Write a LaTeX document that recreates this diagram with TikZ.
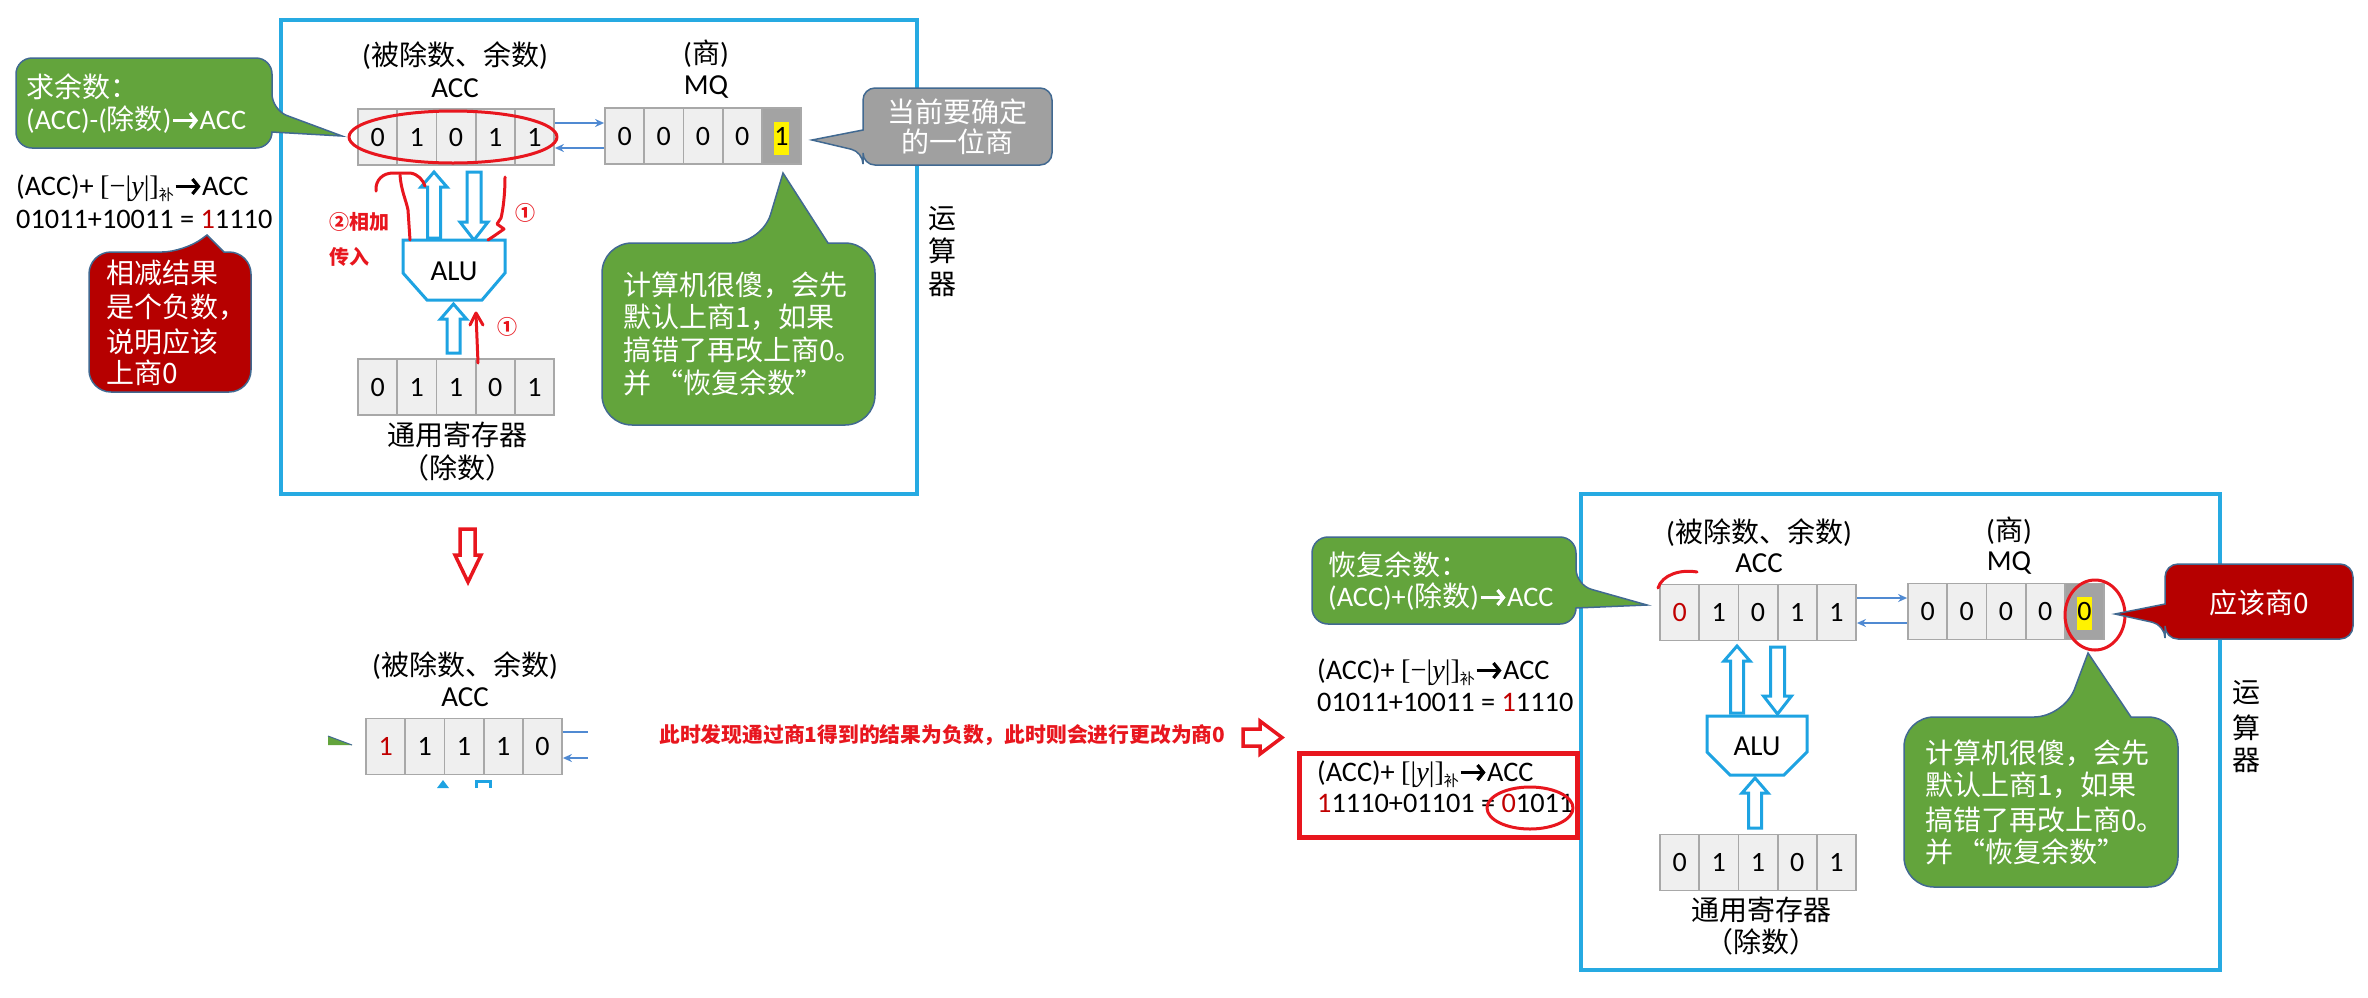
\documentclass[tikz,border=0pt]{standalone}
\usepackage{fontspec}
\setmainfont{Carlito}
\newfontfamily\cjk{Noto Sans CJK SC}
\newfontfamily\tms{Liberation Serif}
\usetikzlibrary{arrows.meta}
\definecolor{frameblue}{RGB}{38,170,226}
\definecolor{arrowblue}{RGB}{30,163,226}
\definecolor{linkblue}{RGB}{80,138,210}
\definecolor{cellfill}{RGB}{239,239,239}
\definecolor{cellline}{RGB}{168,168,168}
\definecolor{darkcell}{RGB}{163,163,163}
\definecolor{calgreen}{RGB}{99,164,60}
\definecolor{calred}{RGB}{182,0,0}
\definecolor{calgray}{RGB}{160,160,160}
\definecolor{calborder}{RGB}{65,105,145}
\definecolor{annred}{RGB}{232,22,30}
\definecolor{digred}{RGB}{192,0,0}
\newcommand\sz[2]{\fontsize{#1pt}{#2pt}\selectfont}
\newcommand\rarr[1]{\tikz[baseline=0pt]\draw[#1,line width=3.2pt,-{Straight Barb[length=6pt,width=15pt]}] (0pt,8.5pt) -- (25pt,8.5pt);}
\newcommand\yabs[1]{{\tms [#1|\textit{y}|]}\raisebox{-5pt}{\cjk\sz{15}{15}补}}
\newcommand\hl[1]{{\setlength\fboxsep{0pt}\colorbox{yellow}{\strut #1}}}
\newcommand\regrow[4]{\foreach \d [count=\i] in {#4} {\node[cell] (#1\i) at ({#2+(\i-0.5)*39.2},#3) {\d};}}
\newcommand\vup[3]{\draw[hollow] (#1,#2) -- ({#1+13},{#2+15}) -- ({#1+6.5},{#2+15}) -- ({#1+6.5},#3) -- ({#1-6.5},#3) -- ({#1-6.5},{#2+15}) -- ({#1-13},{#2+15}) -- cycle;}
\newcommand\vdown[3]{\draw[hollow] (#1,#3) -- ({#1+14},{#3-18}) -- ({#1+7},{#3-18}) -- ({#1+7},#2) -- ({#1-7},#2) -- ({#1-7},{#3-18}) -- ({#1-14},{#3-18}) -- cycle;}
\begin{document}
\begin{tikzpicture}[x=1pt,y=-1pt,
 cell/.style={draw=cellline,fill=cellfill,line width=1.8pt,minimum width=39.2pt,minimum height=56pt,inner sep=0pt,text height=18pt,text depth=0pt,font=\sz{28}{33}},
 lbl/.style={inner sep=0pt,anchor=base,font=\sz{29}{33}},
 zh/.style={inner sep=0pt,font=\cjk\sz{28}{33}},
 tx/.style={inner sep=0pt,font=\sz{28.3}{33}},
 frame/.style={draw=frameblue,line width=3.5pt},
 hollow/.style={draw=arrowblue,fill=white,line width=3pt,line join=miter},
 rhollow/.style={draw=annred,fill=white,line width=3.5pt},
 link/.style={draw=linkblue,line width=2.5pt},
 tipk/.style={-{Stealth[length=9pt,width=8pt]}},
 calg/.style={fill=calgreen,draw=calborder,line width=1.5pt},
 calr/.style={fill=calred,draw=calborder,line width=1.5pt},
 calgy/.style={fill=calgray,draw=calborder,line width=1.5pt},
 ann/.style={draw=annred,line width=3pt,line cap=round,line join=round},
 annt/.style={inner sep=0pt,text=annred,font=\cjk\bfseries\sz{20}{24}}]
\fill[white] (0,0) rectangle (2368,997);
\useasboundingbox (0,0) rectangle (2368,997);

% ================= TOP PANEL =================
\draw[frame] (281,20) rectangle (917,494);
\node[lbl] (tAcl) at (455,65.5) {({\cjk\sz{28}{33}被除数、余数})};
\node[lbl] (tAcc) at (455,97) {ACC};
\node[lbl] (tMql) at (706,63.5) {({\cjk\sz{28}{33}商})};
\node[lbl] (tMq) at (706,94) {MQ};
\regrow{ta}{358}{137}{0,1,0,1,1}
\regrow{tm}{605}{136}{0,0,0,0}
\node[cell,fill=darkcell] (tm5) at ({605+4.5*39.2},136) {\hl{1}};
\regrow{tg}{358}{387}{0,1,1,0,1}
\draw[ann] (453,137) ellipse [x radius=104pt, y radius=26pt];
\draw[link,tipk] ([yshift=14pt]ta5.east) -- ([yshift=14pt]ta5.east -| tm1.west);
\draw[link,tipk] ([yshift=-11pt]ta5.east -| tm1.west) -- ([yshift=-11pt]ta5.east);
\node[lbl] (tgl1) at (454,445.5) {\cjk\sz{28}{33} 通用寄存器};
\node[lbl] (tgl2) at (454,478.5) {\cjk\sz{28}{33} （除数）};
\vup{434}{172}{238}
\vdown{474}{172}{240}
\vup{453.5}{304}{353}
\draw[hollow] (403,240) -- (505,240) -- (505,273) -- (482,300) -- (427,300) -- (403,273) -- cycle;
\node[lbl] (talu) at (454,280) {ALU};
% red hand annotations
\draw[ann] (376,191) .. controls (375,180) and (383,173) .. (393,173) -- (410,173) .. controls (418,174) and (423,180) .. (425,186);
\draw[ann] (400,175) .. controls (401,190) and (406,200) .. (408,210) -- (410,240);
\draw[ann] (505,177) .. controls (505,195) and (503,210) .. (501,218) -- (497,224) -- (504,229) -- (494,236) -- (488,240);
\draw[ann] (478,363) -- (476,314);
\draw[ann] (470,325) -- (476,313) -- (483,325);
\node[annt,anchor=base] (c1a) at (525,220.5) {①};
\node[annt,anchor=base] (c1b) at (507,334.5) {①};
\node[annt,anchor=base west] (xj) at (329,229.6) {②相加};
\node[annt,anchor=base west] (cr) at (329,264.6) {传入};
% gray callout
\draw[calgy,rounded corners=12pt] (1052,88) -- (1052,165) -- (863,165) -- (863,152) [sharp corners] -- (812,140) -- (863,130) [rounded corners=12pt] -- (863,88) -- cycle;
\node[zh,anchor=base,text=white] (gy1) at (957,122) {当前要确定};
\node[zh,anchor=base,text=white] (gy2) at (957,152) {的一位商};
% big green callout
\draw[calg,rounded corners=30pt] (602,243) -- (762,243) [sharp corners] -- (783,173) -- (828,243) [rounded corners=30pt] -- (875,243) -- (875,425) -- (602,425) -- cycle;
\node[zh,anchor=base west,text=white] (tg1) at (623,295) {计算机很傻，会先};
\node[zh,anchor=base west,text=white] (tg2) at (623,327) {默认上商1，如果};
\node[zh,anchor=base west,text=white] (tg3) at (623,360) {搞错了再改上商0。};
\node[zh,anchor=base west,text=white] (tg4) at (623,393) {并\hspace{4pt}“恢复余数”};
\node[zh,anchor=base] (ty1) at (942,228) {运};
\node[zh,anchor=base] (ty2) at (942,261) {算};
\node[zh,anchor=base] (ty3) at (942,294) {器};

% ================= TOP LEFT =================
\draw[calg,rounded corners=16pt] (16,58) -- (272,58) -- (272,110) [sharp corners] -- (342,136) -- (272,132) [rounded corners=16pt] -- (272,148) -- (16,148) -- cycle;
\node[zh,anchor=base west,text=white] (g1a) at (26,97) {求余数：};
\node[tx,anchor=base west,text=white] (g1b) at (26,129) {(ACC)-({\cjk\sz{28}{33}除数})\rarr{white}ACC};
\node[tx,anchor=base west] (f1) at (16,195) {(ACC)+ \yabs{−}\rarr{black}ACC};
\node[tx,anchor=base west] (f2) at (16,228) {01011+10011 = \textcolor{digred}{1}1110};
\draw[calr,rounded corners=22pt] (89,252) -- (184,252) [sharp corners] -- (207,235) -- (224,252) [rounded corners=22pt] -- (251,252) -- (251,392) -- (89,392) -- cycle;
\node[zh,anchor=base west,text=white] (r1) at (106,283) {相减结果};
\node[zh,anchor=base west,text=white] (r2) at (106,317) {是个负数，};
\node[zh,anchor=base west,text=white] (r3) at (106,352) {说明应该};
\node[zh,anchor=base west,text=white] (r4) at (106,383) {上商0};

% ================= MIDDLE =================
\draw[rhollow] (460,529) -- (475,529) -- (475,555) -- (481,555) -- (468,582) -- (455,555) -- (460,555) -- cycle;
\node[lbl] (mAcl) at (465,675.5) {({\cjk\sz{28}{33}被除数、余数})};
\node[lbl] (mAcc) at (465,706) {ACC};
\regrow{ma}{366}{746.5}{{\textcolor{digred}{1}},1,1,1,0}
\fill[calgreen] (328,736) -- (352,745) -- (328,745) -- cycle;
\draw[calborder,line width=1pt] (328,736) -- (352,745);
\draw[link] ([yshift=14.5pt]ma5.east) -- +(25,0);
\draw[link,{Stealth[length=9pt,width=8pt]}-] ([yshift=-11.5pt]ma5.east) -- +(25,0);
\fill[arrowblue] (437,788) -- (443,780) -- (449,788) -- cycle;
\draw[arrowblue,line width=3pt] (476,788) -- (476,781.5) -- (490,781.5) -- (490,788);
\node[annt,font=\cjk\bfseries\sz{20.8}{24},anchor=base west] (mt) at (659,742) {此时发现通过商1得到的结果为负数，此时则会进行更改为商0};
\draw[rhollow] (1243,729) -- (1260,729) -- (1260,721) -- (1282,737.5) -- (1260,754) -- (1260,746) -- (1243,746) -- cycle;

% ================= BOTTOM PANEL =================
\draw[frame] (1581,494) rectangle (2220,970);
\node[lbl] (bAcl) at (1759,542.5) {({\cjk\sz{28}{33}被除数、余数})};
\node[lbl] (bAcc) at (1759,572) {ACC};
\node[lbl] (bMql) at (2009,540.5) {({\cjk\sz{28}{33}商})};
\node[lbl] (bMq) at (2009,570) {MQ};
\regrow{ba}{1660}{612.5}{{\textcolor{digred}{0}},1,0,1,1}
\regrow{bm}{1908}{611.5}{0,0,0,0}
\node[cell,fill=darkcell] (bm5) at ({1908+4.5*39.2},611.5) {\hl{0}};
\regrow{bg}{1660}{862.5}{0,1,1,0,1}
\draw[link,tipk] ([yshift=14.5pt]ba5.east) -- ([yshift=14.5pt]ba5.east -| bm1.west);
\draw[link,tipk] ([yshift=-10.5pt]ba5.east -| bm1.west) -- ([yshift=-10.5pt]ba5.east);
\draw[ann] (1658,588) .. controls (1662,575) and (1680,569) .. (1697,572);
\draw[ann] (2095,615) ellipse [x radius=30pt, y radius=35pt];
\vup{1737}{646}{713}
\vdown{1777.5}{647}{714}
\vup{1755}{778}{828}
\draw[hollow] (1707,716) -- (1807,716) -- (1807,752) -- (1784,775) -- (1730,775) -- (1707,752) -- cycle;
\node[lbl] (balu) at (1757,755) {ALU};
\node[lbl] (bgl1) at (1758,920.5) {\cjk\sz{28}{33} 通用寄存器};
\node[lbl] (bgl2) at (1758,952.5) {\cjk\sz{28}{33} （除数）};
% restore callout
\draw[calg,rounded corners=16pt] (1312,537) -- (1576,537) -- (1576,585) [sharp corners] -- (1647,605) -- (1576,608) [rounded corners=16pt] -- (1576,624) -- (1312,624) -- cycle;
\node[zh,anchor=base west,text=white] (g3a) at (1328,575.5) {恢复余数：};
\node[tx,anchor=base west,text=white] (g3b) at (1328,606) {(ACC)+({\cjk\sz{28}{33}除数})\rarr{white}ACC};
% formulas
\node[tx,anchor=base west] (f3) at (1317,679) {(ACC)+ \yabs{−}\rarr{black}ACC};
\node[tx,anchor=base west] (f4) at (1317,711) {01011+10011 = \textcolor{digred}{1}1110};
\draw[annred,line width=5pt] (1299,753) rectangle (1577,837);
\node[tx,anchor=base west] (f5) at (1317,781) {(ACC)+ \yabs{}\rarr{black}ACC};
\node[tx,anchor=base west] (f6) at (1317,812) {\textcolor{digred}{1}1110+01101 = \textcolor{digred}{0}1011};
\draw[ann] (1530,808) ellipse [x radius=43pt, y radius=21pt];
% red callout
\draw[calr,rounded corners=13pt] (2353,564) -- (2353,639) -- (2165,639) -- (2165,625) [sharp corners] -- (2115,614) -- (2165,604) [rounded corners=13pt] -- (2165,564) -- cycle;
\node[zh,anchor=base,text=white] (rq) at (2259,613.5) {应该商0};
% big green callout bottom
\draw[calg,rounded corners=30pt] (1904,717) -- (2064,717) [sharp corners] -- (2088,653) -- (2131,717) [rounded corners=30pt] -- (2178,717) -- (2178,887) -- (1904,887) -- cycle;
\node[zh,anchor=base west,text=white] (bg1t) at (1925,763.5) {计算机很傻，会先};
\node[zh,anchor=base west,text=white] (bg2t) at (1925,795.5) {默认上商1，如果};
\node[zh,anchor=base west,text=white] (bg3t) at (1925,830.5) {搞错了再改上商0。};
\node[zh,anchor=base west,text=white] (bg4t) at (1925,862.5) {并\hspace{4pt}“恢复余数”};
\node[zh,anchor=base] (by1) at (2246,702.5) {运};
\node[zh,anchor=base] (by2) at (2246,738.5) {算};
\node[zh,anchor=base] (by3) at (2246,770.5) {器};
\end{tikzpicture}
\end{document}
